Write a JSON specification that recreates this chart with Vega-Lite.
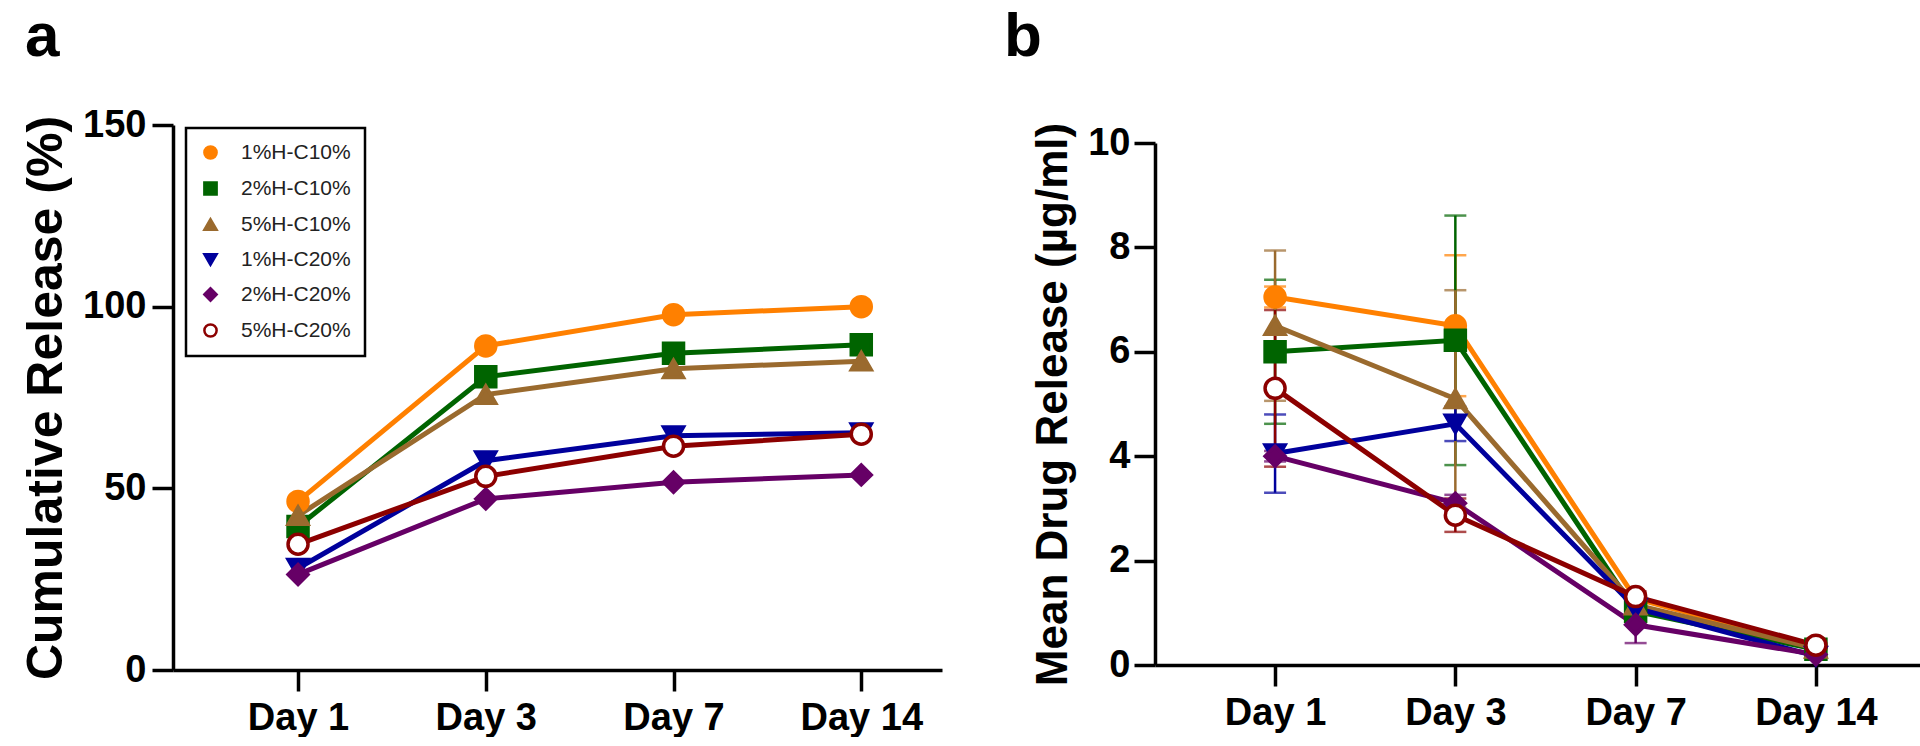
{
  "$schema": "https://vega.github.io/schema/vega-lite/v6.json",
  "background": "white",
  "padding": {"left": 21, "top": 6, "right": 0, "bottom": 0},
  "spacing": 62,
  "resolve": {"scale": {"color": "independent", "fill": "independent", "stroke": "independent", "shape": "independent"}},
  "config": {
    "view": {"stroke": null},
    "font": "Liberation Sans",
    "axis": {"grid": false, "domainColor": "black", "domainWidth": 3.5, "tickColor": "black", "tickWidth": 3.5, "tickSize": 21, "labelFont": "Liberation Sans", "labelFontWeight": "bold", "labelFontSize": 38, "labelColor": "black", "titleFont": "Liberation Sans", "titleFontWeight": "bold", "titleColor": "black"},
    "legend": {"strokeColor": "black", "strokeWidth": 2.5, "fillColor": "white"},
    "title": {"fontSize": 62, "fontWeight": "bold", "font": "Liberation Sans", "anchor": "start", "frame": "group", "color": "black", "baseline": "alphabetic"}
  },
  "datasets": {
    "cum": [
      {"group": "1%H-C10%", "day": "Day 1", "dayNum": 1, "release": 46.4},
      {"group": "1%H-C10%", "day": "Day 3", "dayNum": 2, "release": 89.2},
      {"group": "1%H-C10%", "day": "Day 7", "dayNum": 3, "release": 97.8},
      {"group": "1%H-C10%", "day": "Day 14", "dayNum": 4, "release": 100},
      {"group": "2%H-C10%", "day": "Day 1", "dayNum": 1, "release": 39.5},
      {"group": "2%H-C10%", "day": "Day 3", "dayNum": 2, "release": 80.7},
      {"group": "2%H-C10%", "day": "Day 7", "dayNum": 3, "release": 87.2},
      {"group": "2%H-C10%", "day": "Day 14", "dayNum": 4, "release": 89.5},
      {"group": "5%H-C10%", "day": "Day 1", "dayNum": 1, "release": 42.5},
      {"group": "5%H-C10%", "day": "Day 3", "dayNum": 2, "release": 75.8},
      {"group": "5%H-C10%", "day": "Day 7", "dayNum": 3, "release": 82.9},
      {"group": "5%H-C10%", "day": "Day 14", "dayNum": 4, "release": 85},
      {"group": "1%H-C20%", "day": "Day 1", "dayNum": 1, "release": 28},
      {"group": "1%H-C20%", "day": "Day 3", "dayNum": 2, "release": 57.6},
      {"group": "1%H-C20%", "day": "Day 7", "dayNum": 3, "release": 64.5},
      {"group": "1%H-C20%", "day": "Day 14", "dayNum": 4, "release": 65.3},
      {"group": "2%H-C20%", "day": "Day 1", "dayNum": 1, "release": 26.3},
      {"group": "2%H-C20%", "day": "Day 3", "dayNum": 2, "release": 47.1},
      {"group": "2%H-C20%", "day": "Day 7", "dayNum": 3, "release": 51.7},
      {"group": "2%H-C20%", "day": "Day 14", "dayNum": 4, "release": 53.7},
      {"group": "5%H-C20%", "day": "Day 1", "dayNum": 1, "release": 34.6},
      {"group": "5%H-C20%", "day": "Day 3", "dayNum": 2, "release": 53.3},
      {"group": "5%H-C20%", "day": "Day 7", "dayNum": 3, "release": 61.6},
      {"group": "5%H-C20%", "day": "Day 14", "dayNum": 4, "release": 64.9}
    ],
    "conc": [
      {"group": "1%H-C10%", "day": "Day 1", "dayNum": 1, "mean": 7.05, "err": 0.2},
      {"group": "1%H-C10%", "day": "Day 3", "dayNum": 2, "mean": 6.5, "err": 1.35},
      {"group": "1%H-C10%", "day": "Day 7", "dayNum": 3, "mean": 1.27, "err": 0.1},
      {"group": "1%H-C10%", "day": "Day 14", "dayNum": 4, "mean": 0.34, "err": 0.05},
      {"group": "2%H-C10%", "day": "Day 1", "dayNum": 1, "mean": 6.0, "err": 1.38},
      {"group": "2%H-C10%", "day": "Day 3", "dayNum": 2, "mean": 6.22, "err": 2.39},
      {"group": "2%H-C10%", "day": "Day 7", "dayNum": 3, "mean": 1.03, "err": 0.1},
      {"group": "2%H-C10%", "day": "Day 14", "dayNum": 4, "mean": 0.3, "err": 0.05},
      {"group": "5%H-C10%", "day": "Day 1", "dayNum": 1, "mean": 6.5, "err": 1.44},
      {"group": "5%H-C10%", "day": "Day 3", "dayNum": 2, "mean": 5.1, "err": 2.08},
      {"group": "5%H-C10%", "day": "Day 7", "dayNum": 3, "mean": 1.15, "err": 0.1},
      {"group": "5%H-C10%", "day": "Day 14", "dayNum": 4, "mean": 0.32, "err": 0.05},
      {"group": "1%H-C20%", "day": "Day 1", "dayNum": 1, "mean": 4.05, "err": 0.75},
      {"group": "1%H-C20%", "day": "Day 3", "dayNum": 2, "mean": 4.62, "err": 0.33},
      {"group": "1%H-C20%", "day": "Day 7", "dayNum": 3, "mean": 1.09, "err": 0.1},
      {"group": "1%H-C20%", "day": "Day 14", "dayNum": 4, "mean": 0.17, "err": 0.05},
      {"group": "2%H-C20%", "day": "Day 1", "dayNum": 1, "mean": 4.0, "err": 0.1},
      {"group": "2%H-C20%", "day": "Day 3", "dayNum": 2, "mean": 3.1, "err": 0.16},
      {"group": "2%H-C20%", "day": "Day 7", "dayNum": 3, "mean": 0.77, "err": 0.35},
      {"group": "2%H-C20%", "day": "Day 14", "dayNum": 4, "mean": 0.2, "err": 0.05},
      {"group": "5%H-C20%", "day": "Day 1", "dayNum": 1, "mean": 5.3, "err": 1.5},
      {"group": "5%H-C20%", "day": "Day 3", "dayNum": 2, "mean": 2.87, "err": 0.32},
      {"group": "5%H-C20%", "day": "Day 7", "dayNum": 3, "mean": 1.31, "err": 0.1},
      {"group": "5%H-C20%", "day": "Day 14", "dayNum": 4, "mean": 0.38, "err": 0.05}
    ]
  },
  "hconcat": [
    {
      "width": 769,
      "height": 545,
      "data": {"name": "cum"},
      "title": {"text": "a", "dx": -148, "offset": 37},
      "encoding": {
        "x": {"field": "dayNum", "type": "quantitative", "scale": {"domain": [0.334, 4.43], "nice": false, "zero": false}, "axis": {"values": [1, 2, 3, 4], "labelExpr": "datum.value == 1 ? 'Day 1' : datum.value == 2 ? 'Day 3' : datum.value == 3 ? 'Day 7' : 'Day 14'", "title": null, "labelPadding": 8}},
        "y": {"field": "release", "type": "quantitative", "scale": {"domain": [0, 150], "nice": false}, "axis": {"values": [0, 50, 100, 150], "title": "Cumulative Release (%)", "titleFontSize": 50, "titlePadding": 11, "labelPadding": 6}}
      },
      "layer": [
        {
          "mark": {"type": "line", "strokeWidth": 5},
          "encoding": {"stroke": {"field": "group", "type": "nominal", "scale": {"domain": ["1%H-C10%", "2%H-C10%", "5%H-C10%", "1%H-C20%", "2%H-C20%", "5%H-C20%"], "range": ["#FF8000", "#006400", "#9A6A2E", "#00009C", "#660066", "#8C0000"]}}}
        },
        {
          "mark": {"type": "point", "filled": true, "size": 400, "strokeWidth": 3.5, "opacity": 1},
          "encoding": {
            "shape": {"field": "group", "type": "nominal", "scale": {"domain": ["1%H-C10%", "2%H-C10%", "5%H-C10%", "1%H-C20%", "2%H-C20%", "5%H-C20%"], "range": ["circle", "square", "triangle-up", "triangle-down", "diamond", "circle"]},
              "legend": {"orient": "none", "legendX": 13, "legendY": 3, "title": null, "labelFontSize": 21, "labelFont": "Liberation Sans", "labelColor": "#222", "symbolSize": 150, "symbolStrokeWidth": 2.5, "symbolOpacity": 1, "rowPadding": 13, "padding": 14, "labelOffset": 20}},
            "fill": {"field": "group", "type": "nominal", "scale": {"domain": ["1%H-C10%", "2%H-C10%", "5%H-C10%", "1%H-C20%", "2%H-C20%", "5%H-C20%"], "range": ["#FF8000", "#006400", "#9A6A2E", "#00009C", "#660066", "white"]}},
            "stroke": {"field": "group", "type": "nominal", "scale": {"domain": ["1%H-C10%", "2%H-C10%", "5%H-C10%", "1%H-C20%", "2%H-C20%", "5%H-C20%"], "range": ["#FF8000", "#006400", "#9A6A2E", "#00009C", "#660066", "#8C0000"]}}
          }
        }
      ]
    },
    {
      "width": 768,
      "height": 545,
      "data": {"name": "conc"},
      "title": {"text": "b", "dx": -151, "offset": 53},
      "encoding": {
        "x": {"field": "dayNum", "type": "quantitative", "scale": {"domain": [0.334, 4.594], "nice": false, "zero": false}, "axis": {"values": [1, 2, 3, 4], "labelExpr": "datum.value == 1 ? 'Day 1' : datum.value == 2 ? 'Day 3' : datum.value == 3 ? 'Day 7' : 'Day 14'", "title": null, "labelPadding": 8, "offset": -5}},
        "y": {"field": "mean", "type": "quantitative", "title": "Mean Drug Release (µg/ml)", "scale": {"domain": [0, 10], "nice": false, "range": [540, 18]}, "axis": {"values": [0, 2, 4, 6, 8, 10], "titleFontSize": 44, "titlePadding": 12, "labelPadding": 4}}
      },
      "layer": [
        {
          "mark": {"type": "errorbar", "ticks": true, "size": 22, "thickness": 2.5},
          "encoding": {
            "yError": {"field": "err"},
            "color": {"field": "group", "type": "nominal", "scale": {"domain": ["1%H-C10%", "2%H-C10%", "5%H-C10%", "1%H-C20%", "2%H-C20%", "5%H-C20%"], "range": ["#FF8000", "#006400", "#9A6A2E", "#00009C", "#660066", "#8C0000"]}, "legend": null}
          }
        },
        {
          "mark": {"type": "line", "strokeWidth": 5},
          "encoding": {"color": {"field": "group", "type": "nominal", "legend": null}}
        },
        {
          "mark": {"type": "point", "filled": true, "size": 400, "strokeWidth": 3.5, "opacity": 1},
          "encoding": {
            "shape": {"field": "group", "type": "nominal", "scale": {"domain": ["1%H-C10%", "2%H-C10%", "5%H-C10%", "1%H-C20%", "2%H-C20%", "5%H-C20%"], "range": ["circle", "square", "triangle-up", "triangle-down", "diamond", "circle"]}, "legend": null},
            "fill": {"field": "group", "type": "nominal", "scale": {"domain": ["1%H-C10%", "2%H-C10%", "5%H-C10%", "1%H-C20%", "2%H-C20%", "5%H-C20%"], "range": ["#FF8000", "#006400", "#9A6A2E", "#00009C", "#660066", "white"]}, "legend": null},
            "stroke": {"field": "group", "type": "nominal", "scale": {"domain": ["1%H-C10%", "2%H-C10%", "5%H-C10%", "1%H-C20%", "2%H-C20%", "5%H-C20%"], "range": ["#FF8000", "#006400", "#9A6A2E", "#00009C", "#660066", "#8C0000"]}, "legend": null}
          }
        }
      ]
    }
  ]
}
